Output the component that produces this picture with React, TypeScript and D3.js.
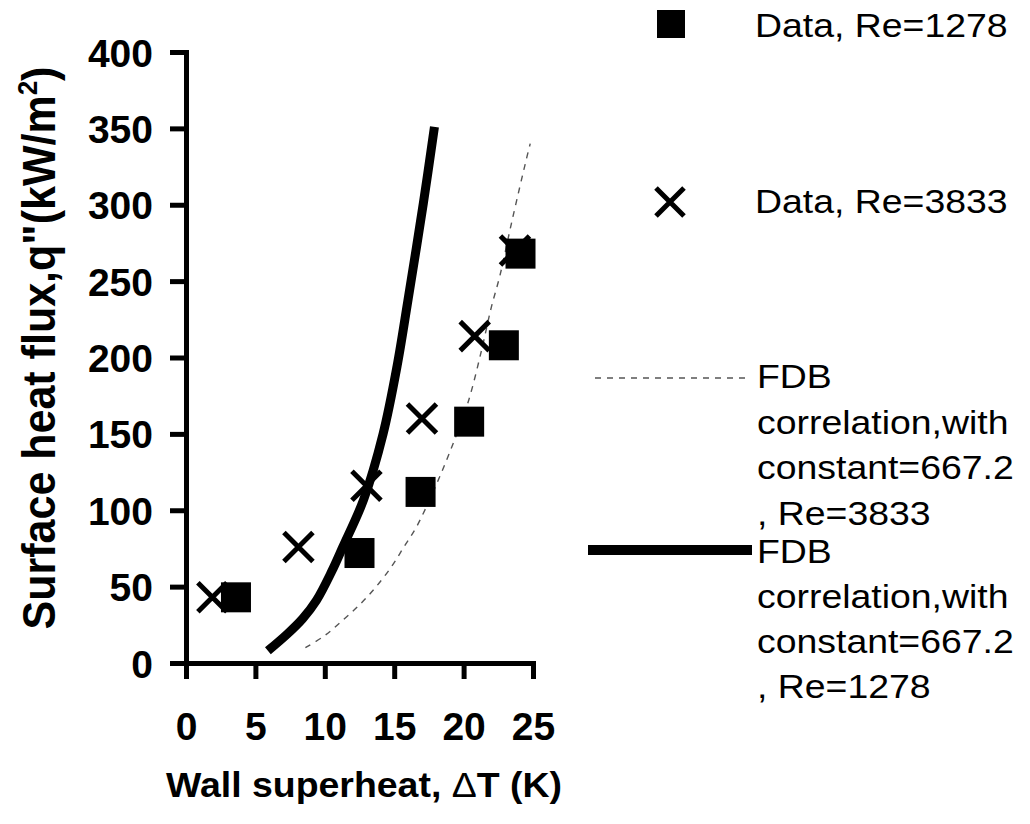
import React, { useEffect, useRef } from 'react';
import * as d3 from 'd3';

// Data, Re=1278 (filled squares)
const sqDT = [3.6, 12.5, 16.9, 20.4, 22.9, 24.1];
const sqQ = [43, 72, 112, 158, 208, 268];

// Data, Re=3833 (crosses)
const crDT = [1.9, 8.1, 13.0, 17.0, 20.8, 23.7];
const crQ = [43, 76, 116, 160, 214, 270];

// FDB correlation, Re=1278 (thick solid line)
const fdb1278DT = [5.9, 7.3, 8.4, 9.4, 10.5, 11.3, 12.8, 14.2, 15.2, 16.0, 17.1, 17.9];
const fdb1278Q = [8, 19, 29, 41, 60, 76, 107, 150, 194, 238, 301, 351];

// FDB correlation, Re=3833 (thin dashed line)
const fdb3833DT = [8.6, 10.0, 11.3, 12.6, 13.7, 14.8, 15.7, 16.6, 17.8, 19.0, 20.3, 21.3, 22.0, 22.6, 23.5, 24.5, 24.8];
const fdb3833Q = [10, 18, 28, 39, 50, 63, 76, 89, 112, 138, 170, 205, 233, 253, 290, 329, 340];

const xTicks = [0, 5, 10, 15, 20, 25];
const yTicks = [0, 50, 100, 150, 200, 250, 300, 350, 400];

const dataLabels = ['Data, Re=1278', 'Data, Re=3833'];
const corr3833Lines = ['FDB', 'correlation,with', 'constant=667.2', ', Re=3833'];
const corr1278Lines = ['FDB', 'correlation,with', 'constant=667.2', ', Re=1278'];

const FONT = '"Liberation Sans", Arial, Helvetica, sans-serif';

const App: React.FC = () => {
  const svgRef = useRef<SVGSVGElement>(null);

  useEffect(() => {
    if (!svgRef.current) return;
    const svg = d3.select(svgRef.current);
    svg.selectAll('*').remove();

    const x = d3.scaleLinear().domain([0, 25]).range([186, 533]);
    const y = d3.scaleLinear().domain([0, 400]).range([663, 52]);

    // axes
    const gx = svg.append('g')
      .attr('transform', `translate(0,${y(0)})`)
      .call(d3.axisBottom(x).tickValues(xTicks).tickSize(16).tickSizeOuter(0).tickFormat(d3.format('d')));
    const gy = svg.append('g')
      .attr('transform', `translate(${x(0)},0)`)
      .call(d3.axisLeft(y).tickValues(yTicks).tickSize(16).tickSizeOuter(0).tickFormat(d3.format('d')));

    [gx, gy].forEach(g => {
      g.select('.domain').attr('stroke', '#000').attr('stroke-width', 5).attr('stroke-linecap', 'square');
      g.selectAll('.tick line').attr('stroke', '#000').attr('stroke-width', 5);
      g.selectAll('.tick text')
        .attr('fill', '#000')
        .attr('font-family', FONT)
        .attr('font-weight', 'bold')
        .attr('font-size', 39);
    });
    gx.selectAll('.tick text').attr('y', 77).attr('dy', 0);
    gy.selectAll('.tick text').attr('x', -33).attr('dy', '0.36em');

    // axis titles
    svg.append('text')
      .attr('transform', `translate(364,797) scale(1.07,1)`)
      .attr('text-anchor', 'middle')
      .attr('font-family', FONT)
      .attr('font-weight', 'bold')
      .attr('font-size', 35)
      .call(t => {
        t.append('tspan').text('Wall superheat, ');
        t.append('tspan').attr('font-weight', 'normal').text('\u0394');
        t.append('tspan').text('T (K)');
      });

    svg.append('text')
      .attr('transform', `translate(55,348) rotate(-90) scale(1,1.08)`)
      .attr('text-anchor', 'middle')
      .attr('font-family', FONT)
      .attr('font-weight', 'bold')
      .attr('font-size', 43)
      .call(t => {
        t.append('tspan').text('Surface heat flux,q"(kW/m');
        t.append('tspan').attr('font-size', 26).attr('dy', -17).text('2');
        t.append('tspan').attr('dy', 17).text(')');
      });

    // correlation curves
    const line = d3.line<[number, number]>()
      .x(d => x(d[0]))
      .y(d => y(d[1]))
      .curve(d3.curveCatmullRom.alpha(0.5));

    svg.append('path')
      .attr('d', line(fdb3833DT.map((v, i) => [v, fdb3833Q[i]]))!)
      .attr('fill', 'none')
      .attr('stroke', '#555')
      .attr('stroke-width', 1.4)
      .attr('stroke-dasharray', '6,6');

    svg.append('path')
      .attr('d', line(fdb1278DT.map((v, i) => [v, fdb1278Q[i]]))!)
      .attr('fill', 'none')
      .attr('stroke', '#000')
      .attr('stroke-width', 9);

    // markers
    const crossPath = (cx: number, cy: number, s: number) => {
      const h = s / 2;
      return `M${cx - h},${cy - h}L${cx + h},${cy + h}M${cx - h},${cy + h}L${cx + h},${cy - h}`;
    };

    svg.append('g').selectAll('path')
      .data(crDT.map((v, i) => [v, crQ[i]]))
      .enter().append('path')
      .attr('d', d => crossPath(x(d[0]), y(d[1]), 29))
      .attr('stroke', '#000')
      .attr('stroke-width', 5)
      .attr('fill', 'none');

    const sq = 30;
    svg.append('g').selectAll('rect')
      .data(sqDT.map((v, i) => [v, sqQ[i]]))
      .enter().append('rect')
      .attr('x', d => x(d[0]) - sq / 2)
      .attr('y', d => y(d[1]) - sq / 2)
      .attr('width', sq)
      .attr('height', sq)
      .attr('fill', '#000');

    // legend
    const leg = svg.append('g');
    leg.append('rect').attr('x', 657).attr('y', 10).attr('width', 28).attr('height', 28).attr('fill', '#000');
    leg.append('path').attr('d', crossPath(670, 202, 28)).attr('stroke', '#000').attr('stroke-width', 5).attr('fill', 'none');
    leg.append('line').attr('x1', 595).attr('x2', 747).attr('y1', 378).attr('y2', 378)
      .attr('stroke', '#555').attr('stroke-width', 1.4).attr('stroke-dasharray', '6,6');
    leg.append('line').attr('x1', 588).attr('x2', 752).attr('y1', 550).attr('y2', 550)
      .attr('stroke', '#000').attr('stroke-width', 10);

    const legText = (txt: string, tx: number, ty: number) => {
      leg.append('text')
        .attr('transform', `translate(${tx},${ty}) scale(1.1,1)`)
        .attr('font-family', FONT)
        .attr('font-size', 34)
        .attr('fill', '#000')
        .text(txt);
    };
    legText(dataLabels[0], 755, 37);
    legText(dataLabels[1], 755, 213);
    corr3833Lines.forEach((s, i) => legText(s, 757, 388 + i * 45.5));
    corr1278Lines.forEach((s, i) => legText(s, 757, 563 + i * 45));
  }, []);

  return (
    <svg
      ref={svgRef}
      width={1030}
      height={824}
      style={{ position: 'absolute', left: 0, top: 0, background: '#fff' }}
    />
  );
};

export default App;
